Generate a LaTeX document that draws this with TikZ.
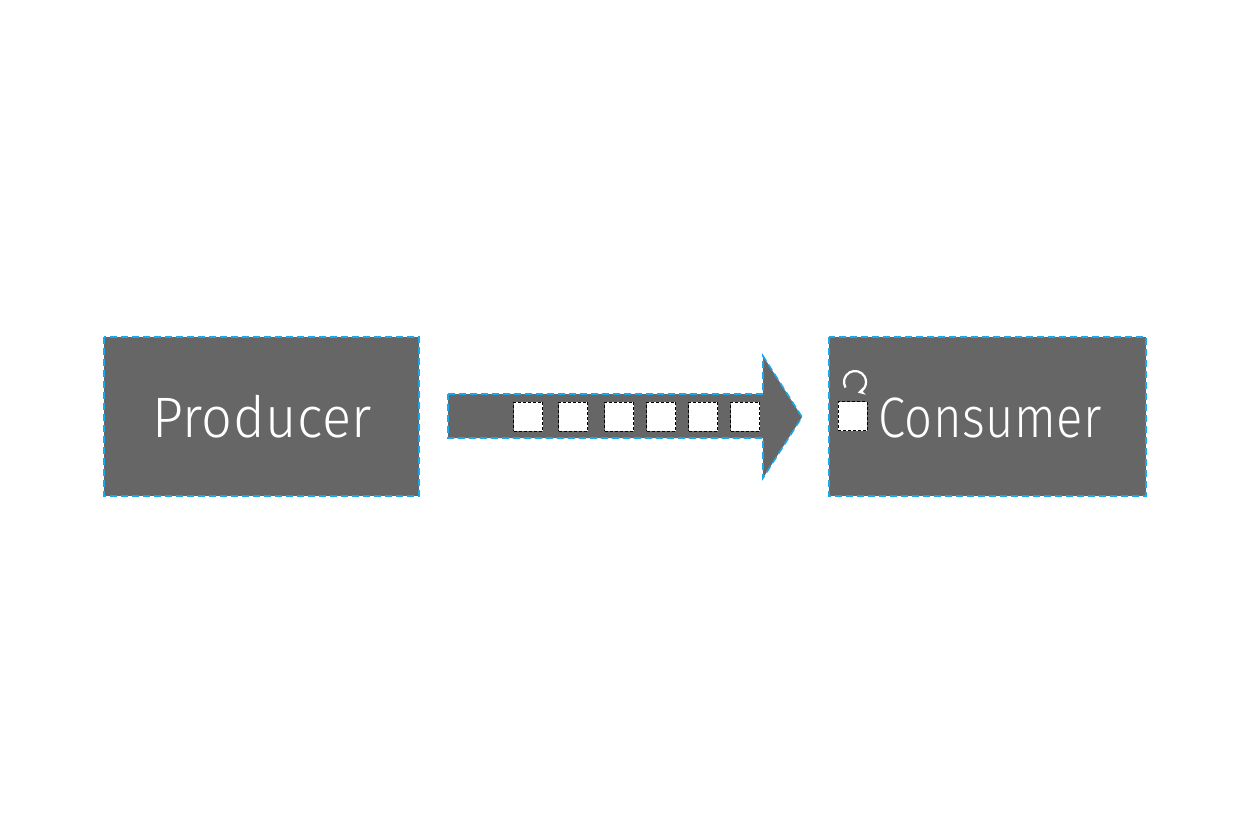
\documentclass[tikz,border=0pt]{standalone}
\usepackage{fontspec}
\newfontfamily\lblfont{Fira Sans}[UprightFont=* Light, LetterSpace=1]
\usetikzlibrary{arrows.meta}
\definecolor{boxgray}{HTML}{666666}
\definecolor{dashblue}{HTML}{1AA7EC}
\newcommand{\lbltext}[2]{\scalebox{#1}[1]{#2}}
\tikzset{
  x=1pt, y=-1pt,
  blockbox/.style={fill=boxgray, draw=dashblue, line width=1.6pt, dash pattern=on 7pt off 4pt},
  msg/.style={fill=white, draw=black, line width=0.8pt, dash pattern=on 3pt off 2pt, minimum size=29pt, inner sep=0pt},
  lbl/.style={text=white, font=\lblfont\fontsize{57}{60}\selectfont, inner sep=0pt, anchor=base west},
}
\begin{document}
\begin{tikzpicture}
\useasboundingbox (0,0) rectangle (1250,833);
\path[blockbox] (104,337) rectangle (419,496);
\node[lbl] (prod) at (152,437) {\lbltext{0.95}{Producer}};
\path[blockbox] (829,337) rectangle (1146,496);
\node[lbl] (cons) at (878,437) {\lbltext{0.86}{Consumer}};
% arrow
\path[blockbox] (448,394) -- (763,394) -- (763,356) -- (802,417) -- (763,478) -- (763,438) -- (448,438) -- cycle;
\node[msg] (m1) at (528,416.5) {};
\node[msg] (m2) at (573,416.5) {};
\node[msg] (m3) at (619,416.5) {};
\node[msg] (m4) at (661,416.5) {};
\node[msg] (m5) at (703,416.5) {};
\node[msg] (m6) at (745,416.5) {};
\node[msg] (mc) at (852.5,416) {};
\coordinate (loopc) at (855,382);
\draw[white, line width=2.2pt, -{Stealth[length=7pt,width=8pt]}] (loopc) ++(210:11pt) arc[start angle=210, end angle=-75, radius=11pt];
\end{tikzpicture}
\end{document}
